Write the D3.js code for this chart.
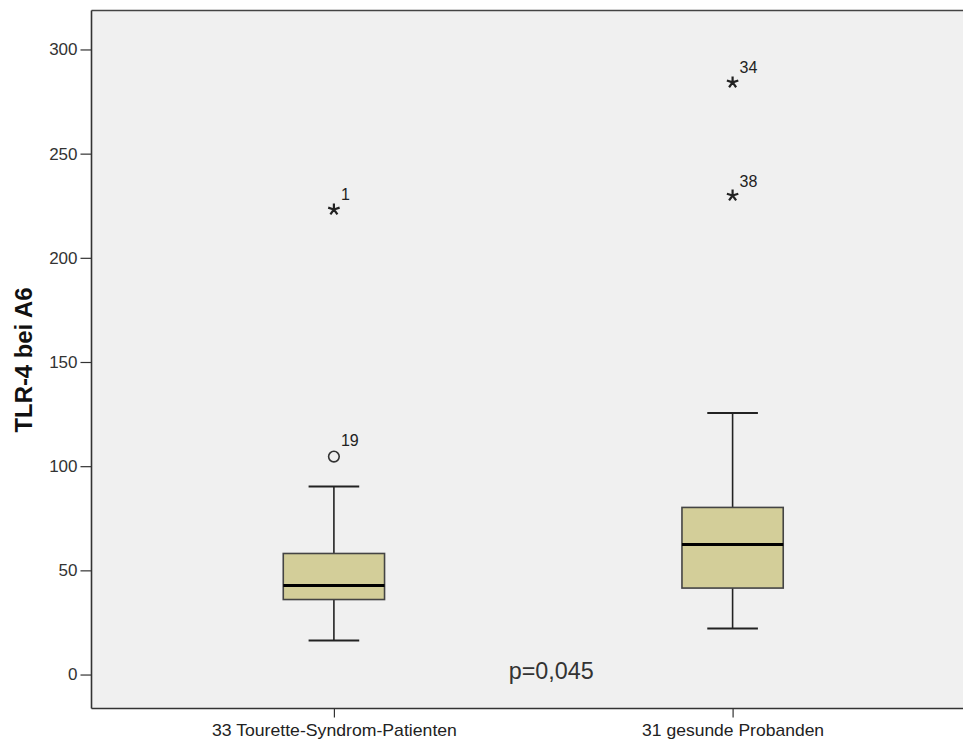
<!DOCTYPE html>
<html>
<head>
<meta charset="utf-8">
<script src="https://cdn.jsdelivr.net/npm/d3@7"></script>
<style>
  html, body { margin: 0; padding: 0; background: #ffffff; }
  svg { display: block; font-family: "Liberation Sans", Arial, sans-serif; }
</style>
</head>
<body>
<svg id="chart" width="963" height="742"></svg>
<script>
// ---- data ----
const categories = ["33 Tourette-Syndrom-Patienten", "31 gesunde Probanden"];
const whiskerLow  = [16.3, 22.1];
const q1          = [36.0, 41.5];
const median      = [42.7, 62.4];
const q3          = [58.1, 80.2];
const whiskerHigh = [90.2, 125.5];
// outliers: group index, value, case id, kind
const outlierGroup = [0, 0, 1, 1];
const outlierValue = [104.6, 223.2, 284.2, 229.9];
const outlierId    = ["19", "1", "34", "38"];
const outlierKind  = ["circle", "star", "star", "star"];
const yTicks = [0, 50, 100, 150, 200, 250, 300];
const yLabel = "TLR-4 bei A6";
const pText = "p=0,045";

// ---- layout ----
const W = 963, H = 742;
const mLeft = 91.5, mTop = 10.5, mBottom = 708.5, mRight = 975;
const svg = d3.select("#chart");

const y = d3.scaleLinear().domain([-16.3, 318.7]).range([mBottom, mTop]);
const x = d3.scalePoint().domain(categories).range([mLeft, mRight]).padding(0.608);
const step = x.step();
const boxW = step * 0.254;
const capW = boxW / 2;

// panel background
svg.append("rect")
  .attr("x", mLeft).attr("y", mTop)
  .attr("width", W - mLeft + 5).attr("height", mBottom - mTop)
  .attr("fill", "#f0f0f0");

// top border
svg.append("line").attr("x1", mLeft).attr("x2", W + 5)
  .attr("y1", mTop).attr("y2", mTop)
  .attr("stroke", "#444").attr("stroke-width", 1.6);

// y axis
const yAxis = d3.axisLeft(y).tickValues(yTicks).tickSize(11).tickPadding(3).tickFormat(d3.format("d"));
const gy = svg.append("g").attr("transform", `translate(${mLeft},0)`).call(yAxis);
gy.select(".domain").remove();
gy.selectAll(".tick line").attr("stroke", "#333").attr("stroke-width", 1.2);
gy.selectAll(".tick text").attr("font-size", 17).attr("fill", "#333")
  .attr("font-family", "Liberation Sans, Arial, sans-serif");
svg.append("line").attr("x1", mLeft).attr("x2", mLeft).attr("y1", mTop).attr("y2", mBottom)
  .attr("stroke", "#333").attr("stroke-width", 1.6);

// x axis
const xAxis = d3.axisBottom(x).tickSize(9).tickPadding(6);
const gx = svg.append("g").attr("transform", `translate(0,${mBottom})`).call(xAxis);
gx.select(".domain").remove();
gx.selectAll(".tick line").attr("stroke", "#333").attr("stroke-width", 1.2);
gx.selectAll(".tick text").attr("font-size", 17).attr("fill", "#222")
  .attr("font-family", "Liberation Sans, Arial, sans-serif")
  .attr("textLength", 245).attr("lengthAdjust", "spacingAndGlyphs");
gx.selectAll(".tick text").filter((d, i) => i === 1).attr("textLength", 182);
svg.append("line").attr("x1", mLeft).attr("x2", W + 5).attr("y1", mBottom).attr("y2", mBottom)
  .attr("stroke", "#333").attr("stroke-width", 1.6);

// y label
svg.append("text")
  .attr("transform", `translate(32,360) rotate(-90)`)
  .attr("text-anchor", "middle")
  .attr("font-size", 23).attr("font-weight", "bold").attr("fill", "#111")
  .attr("textLength", 145).attr("lengthAdjust", "spacingAndGlyphs")
  .text(yLabel);

// boxes
const boxes = categories.map((c, i) => ({
  c, lo: whiskerLow[i], q1: q1[i], med: median[i], q3: q3[i], hi: whiskerHigh[i]
}));
const g = svg.append("g");
boxes.forEach(b => {
  const cx = x(b.c);
  g.append("line").attr("x1", cx).attr("x2", cx).attr("y1", y(b.q3)).attr("y2", y(b.hi))
    .attr("stroke", "#222").attr("stroke-width", 1.6);
  g.append("line").attr("x1", cx).attr("x2", cx).attr("y1", y(b.q1)).attr("y2", y(b.lo))
    .attr("stroke", "#222").attr("stroke-width", 1.6);
  g.append("line").attr("x1", cx - capW / 2).attr("x2", cx + capW / 2).attr("y1", y(b.hi)).attr("y2", y(b.hi))
    .attr("stroke", "#222").attr("stroke-width", 2);
  g.append("line").attr("x1", cx - capW / 2).attr("x2", cx + capW / 2).attr("y1", y(b.lo)).attr("y2", y(b.lo))
    .attr("stroke", "#222").attr("stroke-width", 2);
  g.append("rect").attr("x", cx - boxW / 2).attr("width", boxW)
    .attr("y", y(b.q3)).attr("height", y(b.q1) - y(b.q3))
    .attr("fill", "#d3ce99").attr("stroke", "#444").attr("stroke-width", 1.6);
  g.append("line").attr("x1", cx - boxW / 2).attr("x2", cx + boxW / 2).attr("y1", y(b.med)).attr("y2", y(b.med))
    .attr("stroke", "#000").attr("stroke-width", 3);
});

// outliers
const starPath = (r) => {
  let p = "";
  for (let k = 0; k < 5; k++) {
    const a = -Math.PI / 2 + k * 2 * Math.PI / 5;
    p += `M0,0L${(r * Math.cos(a)).toFixed(2)},${(r * Math.sin(a)).toFixed(2)}`;
  }
  return p;
};
outlierValue.forEach((v, i) => {
  const cx = x(categories[outlierGroup[i]]);
  const cy = y(v);
  if (outlierKind[i] === "circle") {
    g.append("circle").attr("cx", cx).attr("cy", cy).attr("r", 5.3)
      .attr("fill", "none").attr("stroke", "#333").attr("stroke-width", 1.6);
  } else {
    g.append("path").attr("transform", `translate(${cx},${cy})`).attr("d", starPath(6))
      .attr("stroke", "#222").attr("stroke-width", 2.2).attr("stroke-linecap", "butt");
  }
  g.append("text").attr("x", cx + 7).attr("y", cy - (outlierKind[i] === "circle" ? 11 : 9))
    .attr("font-size", 16).attr("fill", "#222").text(outlierId[i]);
});

// p-value annotation
svg.append("text").attr("x", (x(categories[0]) + x(categories[1])) / 2 + 18).attr("y", 679)
  .attr("text-anchor", "middle").attr("font-size", 23).attr("fill", "#333")
  .attr("textLength", 85).attr("lengthAdjust", "spacingAndGlyphs")
  .text(pText);
</script>
</body>
</html>
